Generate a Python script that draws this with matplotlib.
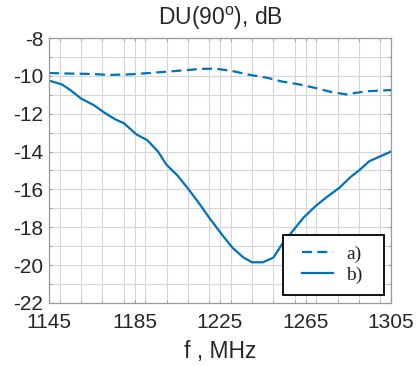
import matplotlib.pyplot as plt
from matplotlib.ticker import MultipleLocator
from matplotlib.legend_handler import HandlerLine2D

# frequency grid, MHz
f_a = [1145, 1155, 1165, 1173, 1183, 1192, 1200, 1209, 1216, 1223, 1231, 1239,
       1247, 1254, 1262, 1270, 1277, 1284, 1293, 1305]
du_a = [-9.85, -9.88, -9.9, -9.95, -9.92, -9.85, -9.78, -9.7, -9.63, -9.62, -9.75, -9.95,
        -10.1, -10.3, -10.45, -10.65, -10.85, -10.98, -10.82, -10.75]

f_b = [1145, 1151, 1155, 1160, 1166, 1171, 1176, 1180, 1186, 1191, 1196, 1200, 1205,
       1210, 1215, 1220, 1226, 1231, 1236, 1240, 1245, 1250, 1254, 1259, 1264,
       1270, 1275, 1281, 1286, 1290, 1295, 1300, 1305]
du_b = [-10.25, -10.45, -10.75, -11.2, -11.55, -11.95, -12.3, -12.5, -13.1, -13.4, -14.0,
        -14.7, -15.25, -15.95, -16.7, -17.5, -18.4, -19.1, -19.6, -19.85, -19.85,
        -19.6, -18.9, -18.2, -17.5, -16.85, -16.4, -15.9, -15.35, -15.0, -14.5,
        -14.25, -14.0]

xticks = [1145, 1185, 1225, 1265, 1305]
yticks = [-22, -20, -18, -16, -14, -12, -10, -8]

blue = '#0072BD'
plt.rcParams['font.family'] = ['Liberation Sans', 'DejaVu Sans']
plt.rcParams['axes.unicode_minus'] = False

fig = plt.figure(figsize=(4.18, 3.66), dpi=100)
ax = fig.add_axes([49 / 418, 1 - 303 / 366, 342 / 418, 265 / 366])

ax.plot(f_a, du_a, color=blue, lw=1.6, ls=(0, (4.5, 2.4)), label='a)')
ax.plot(f_b, du_b, color=blue, lw=1.6, label='b)')

ax.set_xlim(1145, 1305)
ax.set_ylim(-22, -8)
ax.set_xticks(xticks)
ax.set_yticks(yticks)
ax.xaxis.set_minor_locator(MultipleLocator(10))
ax.yaxis.set_minor_locator(MultipleLocator(1))
ax.grid(True, which='both', color='#d6d6d6', lw=0.8)
ax.set_axisbelow(True)
ax.tick_params(which='both', direction='in', labelsize=15, labelcolor='#262626',
               color='#999999', top=True, right=True, length=2.5)
ax.tick_params(axis='x', which='major', pad=7)
ax.tick_params(axis='y', which='major', pad=4)
for s in ax.spines.values():
    s.set_color('#9a9a9a')
    s.set_linewidth(0.9)

ax.set_title('DU(90$^{\\mathregular{o}}$), dB', fontsize=16.5, pad=9, color='#262626')
ax.set_xlabel('f , MHz', fontsize=16.5, labelpad=6, color='#262626')

leg = ax.legend(loc='lower left', bbox_to_anchor=(0.684, 0.032, 0.296, 0.24), mode='expand',
                fancybox=False, edgecolor='black', framealpha=1, handlelength=2.0,
                handler_map={l: HandlerLine2D(xpad=0.45) for l in ax.get_lines()},
                prop={'family': 'Liberation Serif', 'size': 14},
                borderpad=0.55, labelspacing=0.15, handletextpad=0.7, borderaxespad=0)
leg.get_frame().set_linewidth(1.3)
for t in leg.get_texts():
    t.set_color('#222222')

fig.savefig('out.png', dpi=100)
